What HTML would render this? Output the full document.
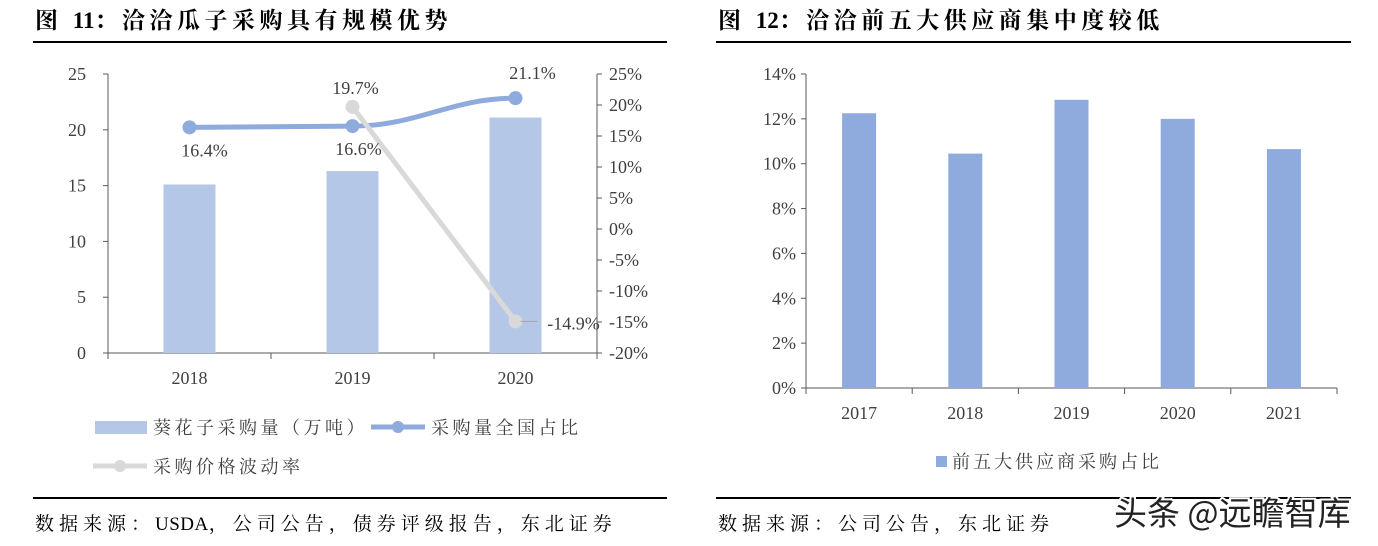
<!DOCTYPE html>
<html><head><meta charset="utf-8"><style>
body{margin:0;background:#fff;width:1378px;height:546px;overflow:hidden}
svg{display:block}
text{font-family:"Liberation Serif","Noto Serif CJK SC","Noto Sans CJK SC",serif}
</style></head><body>
<svg id="s" width="1378" height="546" xmlns="http://www.w3.org/2000/svg">
<text x="35" y="28" font-size="23" font-weight="bold" fill="#000" letter-spacing="4.5">图 <tspan letter-spacing="0">11</tspan>：洽洽瓜子采购具有规模优势</text>
<line x1="33" y1="42" x2="667" y2="42" stroke="#000" stroke-width="2"/>
<line x1="33" y1="498" x2="667" y2="498" stroke="#000" stroke-width="2"/>
<text x="35" y="530" font-size="19" fill="#000" letter-spacing="5">数据来源：<tspan letter-spacing="0.5">USDA</tspan>，公司公告，债券评级报告，东北证券</text>
<text x="718" y="28" font-size="23" font-weight="bold" fill="#000" letter-spacing="4.5">图 <tspan letter-spacing="0">12</tspan>：洽洽前五大供应商集中度较低</text>
<line x1="716" y1="42" x2="1351" y2="42" stroke="#000" stroke-width="2"/>
<line x1="716" y1="498" x2="1351" y2="498" stroke="#000" stroke-width="2"/>
<text x="718" y="530" font-size="19" fill="#000" letter-spacing="5">数据来源：公司公告，东北证券</text>
<g id="c1"></g>
<g id="c2"></g>
<text x="1114" y="525" font-size="33" fill="#222" stroke="#fff" stroke-width="4" paint-order="stroke" style="font-family:'Noto Sans CJK SC',sans-serif">头条 @远瞻智库</text>
</svg>
<script>
const years1 = ["2018","2019","2020"];
const volume = [15.1, 16.3, 21.1];
const shareNat = [16.4, 16.6, 21.1];
const priceChg = [null, 19.7, -14.9];
const leftTicks = [0,5,10,15,20,25];
const rightTicks = [-20,-15,-10,-5,0,5,10,15,20,25];
const years2 = ["2017","2018","2019","2020","2021"];
const top5 = [12.25, 10.45, 12.85, 12.0, 10.65];
const ticks2 = [0,2,4,6,8,10,12,14];

const NS="http://www.w3.org/2000/svg";
function mk(p,t,a,txt){const e=document.createElementNS(NS,t);for(const k in a)e.setAttribute(k,a[k]);if(txt!==undefined)e.textContent=txt;p.appendChild(e);return e;}
const AX="#595959", TX="#404040";

// Chart 1
const g1=document.getElementById('c1');
const L=108,R=597,T=74,B=353;
const yL=v=>B-(v/25)*(B-T);
const yR=v=>B-((v+20)/45)*(B-T);
const bw=(R-L)/years1.length;
const xc=i=>L+bw*(i+0.5);
let e;
e=mk(g1,'line',{x1:L,y1:T,x2:L,y2:B,stroke:AX});


e=mk(g1,'line',{x1:R,y1:T,x2:R,y2:B+6,stroke:AX});


e=mk(g1,'line',{x1:L-5,y1:B,x2:R,y2:B,stroke:AX});


leftTicks.forEach(v=>{
  mk(g1,'line',{x1:L-5,y1:yL(v),x2:L,y2:yL(v),stroke:AX});
  e=mk(g1,'text',{x:L-22,y:yL(v)+6,'font-size':18,fill:TX,'text-anchor':'end'},String(v));
  
  
});
rightTicks.forEach(v=>{
  mk(g1,'line',{x1:R,y1:yR(v),x2:R+5,y2:yR(v),stroke:AX});
  e=mk(g1,'text',{x:R+12,y:yR(v)+6,'font-size':18,fill:TX},v+'%');
  
  
});
for(let i=0;i<=years1.length;i++)mk(g1,'line',{x1:L+bw*i,y1:B,x2:L+bw*i,y2:B+6,stroke:AX});
years1.forEach((y,i)=>{
  e=mk(g1,'rect',{x:xc(i)-26,y:yL(volume[i]),width:52,height:B-yL(volume[i]),fill:'#b4c7e7'});
  
  
  e=mk(g1,'text',{x:xc(i),y:384,'font-size':18,fill:TX,'text-anchor':'middle'},y);
  
  
});
// blue line (smoothed)
let d='M'+xc(0)+' '+yR(shareNat[0]);
for(let i=1;i<shareNat.length;i++){
  const x0=xc(i-1),y0=yR(shareNat[i-1]),x1=xc(i),y1=yR(shareNat[i]);
  const k=bw*0.4;
  d+=' C'+(x0+k)+' '+y0+' '+(x1-k)+' '+y1+' '+x1+' '+y1;
}
e=mk(g1,'path',{d:d,fill:'none',stroke:'#8faadc','stroke-width':5,'stroke-linejoin':'round'});


shareNat.forEach((v,i)=>{
  e=mk(g1,'circle',{cx:xc(i),cy:yR(v),r:7,fill:'#8faadc'});
  
  
});
// gray line
d='';let first=true;
priceChg.forEach((v,i)=>{if(v===null)return;d+=(first?'M':' L')+xc(i)+' '+yR(v);first=false;});
e=mk(g1,'path',{d:d,fill:'none',stroke:'#d9d9d9','stroke-width':5});


priceChg.forEach((v,i)=>{if(v===null)return;
  e=mk(g1,'circle',{cx:xc(i),cy:yR(v),r:7,fill:'#d9d9d9'});
  
  
});
// labels
const lab=(x,y,t,n)=>{e=mk(g1,'text',{x:x,y:y,'font-size':18,fill:TX,'text-anchor':'middle'},t);};
lab(xc(0)+15,yR(shareNat[0])+29,shareNat[0]+'%','label-share-2018');
lab(xc(1)+6,yR(shareNat[1])+29,shareNat[1]+'%','label-share-2019');
lab(xc(2)+17,yR(shareNat[2])-19,shareNat[2]+'%','label-share-2020');
lab(xc(1)+3,yR(priceChg[1])-13,priceChg[1]+'%','label-price-2019');
mk(g1,'line',{x1:xc(2)+5,y1:yR(priceChg[2]),x2:xc(2)+22,y2:yR(priceChg[2]),stroke:'#a6a6a6'});
lab(xc(2)+58,yR(priceChg[2])+8,priceChg[2]+'%','label-price-2020');
// legend
e=mk(g1,'rect',{x:95,y:421,width:52,height:13,fill:'#b4c7e7'});


e=mk(g1,'text',{x:153,y:434,'font-size':18,fill:TX,'letter-spacing':3.5},'葵花子采购量（万吨）');


mk(g1,'line',{x1:371,y1:427,x2:425,y2:427,stroke:'#8faadc','stroke-width':5});
mk(g1,'circle',{cx:398,cy:427,r:6,fill:'#8faadc'});
e=mk(g1,'text',{x:431,y:434,'font-size':18,fill:TX,'letter-spacing':3.5},'采购量全国占比');


mk(g1,'line',{x1:93,y1:466,x2:147,y2:466,stroke:'#d9d9d9','stroke-width':5});
mk(g1,'circle',{cx:120,cy:466,r:6,fill:'#d9d9d9'});
e=mk(g1,'text',{x:153,y:473,'font-size':18,fill:TX,'letter-spacing':3.5},'采购价格波动率');



// Chart 2
const g2=document.getElementById('c2');
const L2=806,R2=1337,T2=74,B2=388;
const y2=v=>B2-(v/14)*(B2-T2);
const bw2=(R2-L2)/years2.length;
const xc2=i=>L2+bw2*(i+0.5);
e=mk(g2,'line',{x1:L2,y1:T2,x2:L2,y2:B2+6,stroke:AX});


e=mk(g2,'line',{x1:L2-5,y1:B2,x2:R2,y2:B2,stroke:AX});


ticks2.forEach(v=>{
  mk(g2,'line',{x1:L2-5,y1:y2(v),x2:L2,y2:y2(v),stroke:AX});
  e=mk(g2,'text',{x:L2-10,y:y2(v)+6,'font-size':18,fill:TX,'text-anchor':'end'},v+'%');
  
  
});
for(let i=0;i<=years2.length;i++)mk(g2,'line',{x1:L2+bw2*i,y1:B2,x2:L2+bw2*i,y2:B2+6,stroke:AX});
years2.forEach((y,i)=>{
  e=mk(g2,'rect',{x:xc2(i)-17,y:y2(top5[i]),width:34,height:B2-y2(top5[i]),fill:'#8faadc'});
  
  
  e=mk(g2,'text',{x:xc2(i),y:419,'font-size':18,fill:TX,'text-anchor':'middle'},y);
  
  
});
e=mk(g2,'rect',{x:936,y:456,width:11,height:11,fill:'#8faadc'});


e=mk(g2,'text',{x:952,y:468,'font-size':18,fill:TX,'letter-spacing':3},'前五大供应商采购占比');


</script>
</body></html>
